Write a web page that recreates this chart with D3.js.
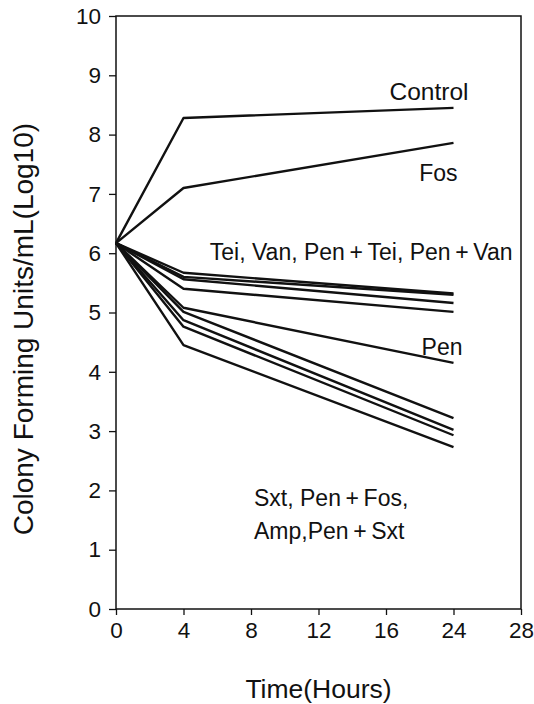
<!DOCTYPE html>
<html>
<head>
<meta charset="utf-8">
<script src="https://cdn.jsdelivr.net/npm/d3@7"></script>
<style>
  body { margin: 0; background: #fff; }
  text { font-family: 'Liberation Sans', Arial, sans-serif; fill: #111; }
</style>
</head>
<body>
<div id="chart"></div>
<script>
// tick labels on the x axis are evenly spaced categories
const xTicks = ['0', '4', '8', '12', '16', '24', '28'];
const yTicks = [0, 1, 2, 3, 4, 5, 6, 7, 8, 9, 10];
const sampleTimes = ['0', '4', '24'];

// log10 CFU/mL at 0, 4 and 24 hours
const control = [6.17, 8.28, 8.45];
const fos = [6.17, 7.10, 7.86];
const tei = [6.17, 5.67, 5.32];
const van = [6.17, 5.60, 5.30];
const penTei = [6.17, 5.56, 5.16];
const penVan = [6.17, 5.40, 5.01];
const pen = [6.17, 5.08, 4.15];
const sxt = [6.17, 5.01, 3.22];
const penFos = [6.17, 4.87, 3.02];
const amp = [6.17, 4.76, 2.93];
const penSxt = [6.17, 4.45, 2.73];

const series = [control, fos, tei, van, penTei, penVan, pen, sxt, penFos, amp, penSxt];

const width = 534, height = 704;
const margin = { top: 16, right: 13, bottom: 95, left: 116 };

const svg = d3.select('#chart')
  .append('svg')
    .attr('width', width)
    .attr('height', height);

const x = d3.scalePoint()
  .domain(xTicks)
  .range([margin.left, width - margin.right]);

const y = d3.scaleLinear()
  .domain([0, 10])
  .range([height - margin.bottom, margin.top]);

// frame
svg.append('rect')
  .attr('x', margin.left)
  .attr('y', margin.top)
  .attr('width', width - margin.right - margin.left)
  .attr('height', height - margin.bottom - margin.top)
  .attr('fill', 'none')
  .attr('stroke', '#111')
  .attr('stroke-width', 1.5);

const yAxis = svg.append('g')
  .attr('transform', 'translate(' + margin.left + ',0)')
  .call(d3.axisLeft(y).tickValues(yTicks).tickSize(7).tickPadding(8));

const xAxis = svg.append('g')
  .attr('transform', 'translate(0,' + (height - margin.bottom) + ')')
  .call(d3.axisBottom(x).tickSize(6).tickPadding(7));

[xAxis, yAxis].forEach(g => {
  g.select('.domain').remove();
  g.selectAll('line').attr('stroke', '#111').attr('stroke-width', 1.3);
  g.selectAll('text')
    .style('font-size', '22.5px')
    .style('font-family', "'Liberation Sans', Arial, sans-serif")
    .attr('fill', '#111');
});

const line = d3.line()
  .x((d, i) => x(sampleTimes[i]))
  .y(d => y(d));

svg.append('g')
  .selectAll('path')
  .data(series)
  .enter()
  .append('path')
    .attr('fill', 'none')
    .attr('stroke', '#111')
    .attr('stroke-width', 2.4)
    .attr('stroke-linejoin', 'round')
    .attr('d', line);

// labels, anchored on the line ends
const endX = x('24');
const labels = svg.append('g').style('font-size', '23px');

labels.append('text')
  .attr('x', endX + 15).attr('y', y(control[2]) - 8)
  .attr('text-anchor', 'end')
  .style('font-size', '24.5px')
  .text('Control');

labels.append('text')
  .attr('x', endX + 4).attr('y', y(fos[2]) + 38)
  .attr('text-anchor', 'end')
  .text('Fos');

labels.append('text')
  .attr('x', endX + 59).attr('y', y(tei[2]) - 34)
  .attr('text-anchor', 'end')
  .text('Tei, Van, Pen\u2009+\u2009Tei, Pen\u2009+\u2009Van');

labels.append('text')
  .attr('x', endX + 9).attr('y', y(pen[2]) - 8)
  .attr('text-anchor', 'end')
  .text('Pen');

labels.append('text')
  .attr('x', x('8') + 3).attr('y', y(1.73))
  .text('Sxt, Pen\u2009+\u2009Fos,');

labels.append('text')
  .attr('x', x('8') + 3).attr('y', y(1.18))
  .text('Amp,Pen\u2009+\u2009Sxt');

// axis titles
svg.append('text')
  .attr('x', (margin.left + width - margin.right) / 2)
  .attr('y', height - 6)
  .attr('text-anchor', 'middle')
  .style('font-size', '26.5px')
  .text('Time(Hours)');

svg.append('text')
  .attr('transform', 'translate(33,' + y(4.72) + ') rotate(-90)')
  .attr('text-anchor', 'middle')
  .style('font-size', '28px')
  .text('Colony Forming Units/mL(Log10)');
</script>
</body>
</html>
